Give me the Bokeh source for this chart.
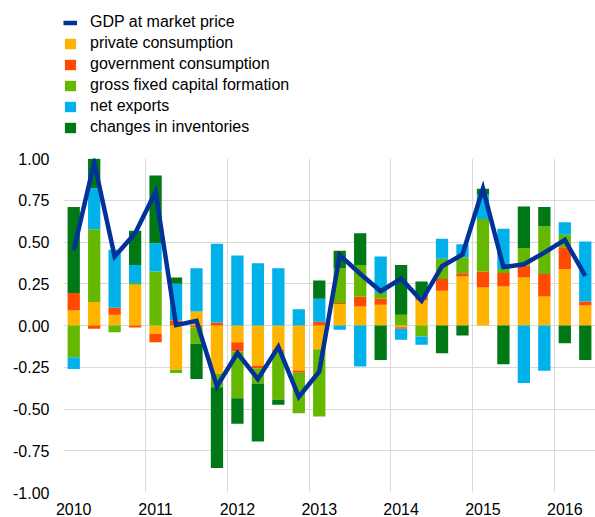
from bokeh.plotting import figure
from bokeh.layouts import column
from bokeh.models import FixedTicker, PrintfTickFormatter, Range1d, Legend, LegendItem, ColumnDataSource
from bokeh.embed import file_html
from bokeh.resources import INLINE

years = [2010, 2011, 2012, 2013, 2014, 2015, 2016]
year_labels = ["2010", "2011", "2012", "2013", "2014", "2015", "2016"]
y_ticks = [-1.0, -0.75, -0.5, -0.25, 0.0, 0.25, 0.5, 0.75, 1.0]

# quarterly contributions 2010Q1 .. 2016Q2
private_consumption = [0.09, 0.14, 0.064, 0.244, -0.05, -0.265, 0.084, -0.29, -0.10, -0.241, -0.146, -0.27, -0.142,
                       0.128, 0.114, 0.124, -0.01, 0.15, 0.208, 0.293, 0.228, 0.234, 0.287, 0.174, 0.337, 0.12]
government_consumption = [0.105, -0.02, 0.042, -0.012, -0.05, 0.03, -0.012, 0.018, -0.056, -0.016, -0.01, -0.013, 0.022,
                          0.006, 0.058, 0.036, -0.01, 0.024, 0.07, 0.02, 0.096, 0.08, 0.072, 0.134, 0.132, 0.024]
gross_fixed_capital = [-0.19, 0.437, -0.04, 0.01, 0.323, -0.02, -0.098, -0.08, -0.279, -0.09, -0.289, -0.242, -0.403,
                       0.209, 0.191, 0.034, 0.064, -0.066, 0.122, 0.096, 0.313, 0.024, 0.104, 0.286, 0.074, 0.0]
net_exports = [-0.07, 0.245, 0.347, 0.109, 0.17, 0.22, 0.259, 0.471, 0.419, 0.373, 0.343, 0.098, 0.138,
               -0.026, -0.245, 0.219, -0.066, -0.05, 0.12, 0.078, 0.146, 0.242, -0.345, -0.271, 0.076, 0.359]
inventories = [0.515, 0.176, 0.0, 0.204, 0.405, 0.037, -0.21, -0.483, -0.154, -0.348, -0.03, 0.0, 0.11,
               0.104, 0.19, -0.206, 0.299, 0.09, -0.166, -0.06, 0.036, -0.232, 0.25, 0.116, -0.106, -0.206]
gdp = [0.45, 0.976, 0.413, 0.553, 0.80, 0.002, 0.028, -0.365, -0.165, -0.321, -0.128, -0.427, -0.275,
       0.421, 0.31, 0.205, 0.28, 0.148, 0.355, 0.425, 0.82, 0.35, 0.367, 0.436, 0.513, 0.297]

gdp_name = "GDP at market price"
series_names = ["private consumption", "government consumption", "gross fixed capital formation",
                "net exports", "changes in inventories"]
series_values = [private_consumption, government_consumption, gross_fixed_capital, net_exports, inventories]
series_colors = ["#FFB400", "#FF4B00", "#65B800", "#00B1EA", "#007816"]
gdp_color = "#003299"

n = len(gdp)
xq = [2010 + (i + 0.5) / 4 for i in range(n)]

FONT = "Liberation Sans"
W = 595
H_LEG = 140
H_MAIN = 377

# ---------------- main chart ----------------
p = figure(width=W, height=H_MAIN, output_backend="svg", toolbar_location=None,
           x_range=Range1d(2010, 2016.5), y_range=Range1d(-1, 1),
           min_border_left=63, min_border_right=0, min_border_top=18, min_border_bottom=25)
p.outline_line_color = None

pos_base = [0.0] * n
neg_base = [0.0] * n
for name, vals, col in zip(series_names, series_values, series_colors):
    bottoms, tops = [], []
    for i, v in enumerate(vals):
        if v >= 0:
            bottoms.append(pos_base[i]); tops.append(pos_base[i] + v); pos_base[i] += v
        else:
            bottoms.append(neg_base[i]); tops.append(neg_base[i] + v); neg_base[i] += v
    src = ColumnDataSource(dict(x=xq, bottom=bottoms, top=tops))
    p.vbar(x="x", bottom="bottom", top="top", width=0.15, source=src,
           fill_color=col, line_color=None)

p.line(xq, gdp, line_color=gdp_color, line_width=4.5, line_join="miter")

p.yaxis.ticker = FixedTicker(ticks=y_ticks)
p.yaxis.formatter = PrintfTickFormatter(format="%.2f")
x_label_pos = [y + 0.125 for y in years]
p.xaxis.ticker = FixedTicker(ticks=x_label_pos)
p.xaxis.major_label_overrides = {pos: lab for pos, lab in zip(x_label_pos, year_labels)}
for ax in (p.xaxis[0], p.yaxis[0]):
    ax.axis_line_color = None
    ax.major_tick_line_color = None
    ax.minor_tick_line_color = None
    ax.major_tick_in = 0
    ax.major_tick_out = 0
    ax.major_label_text_font = FONT
    ax.major_label_text_font_size = "16px"
    ax.major_label_text_color = "#000000"
p.yaxis.major_label_standoff = 14
p.xaxis.major_label_standoff = 10

p.xgrid.ticker = FixedTicker(ticks=years)
p.ygrid.ticker = FixedTicker(ticks=y_ticks)
p.xgrid.grid_line_color = "#d9d9d9"
p.ygrid.grid_line_color = "#d9d9d9"

# ---------------- legend panel (frame aligned with the chart's frame) ----------------
lg = figure(width=W, height=H_LEG, output_backend="svg", toolbar_location=None,
            x_range=Range1d(0, 1), y_range=Range1d(0, 1),
            min_border_left=0, min_border_right=0, min_border_top=0, min_border_bottom=0)
lg.outline_line_color = None
lg.grid.visible = False
lg.xaxis.visible = False
lg.yaxis.visible = False

# proxy renderers (their data lie outside this panel's range, so only the legend swatches show)
items = [LegendItem(label=gdp_name,
                    renderers=[lg.line(xq[:2], gdp[:2], line_color=gdp_color, line_width=4.5)])]
for name, vals, col in zip(series_names, series_values, series_colors):
    r = lg.vbar(x=xq[:1], top=vals[:1], width=0.1, fill_color=col, line_color=None)
    items.append(LegendItem(label=name, renderers=[r]))
legend = Legend(items=items, location=(0, 4), orientation="vertical",
                glyph_width=14, glyph_height=13, label_height=13, label_standoff=13,
                spacing=3, padding=0, margin=0,
                label_text_font=FONT, label_text_font_size="16px", label_text_color="#000000",
                border_line_color=None, background_fill_alpha=0)
lg.add_layout(legend, "center")

layout = column(lg, p, spacing=0)
open("out.html", "w").write(file_html(layout, INLINE))
